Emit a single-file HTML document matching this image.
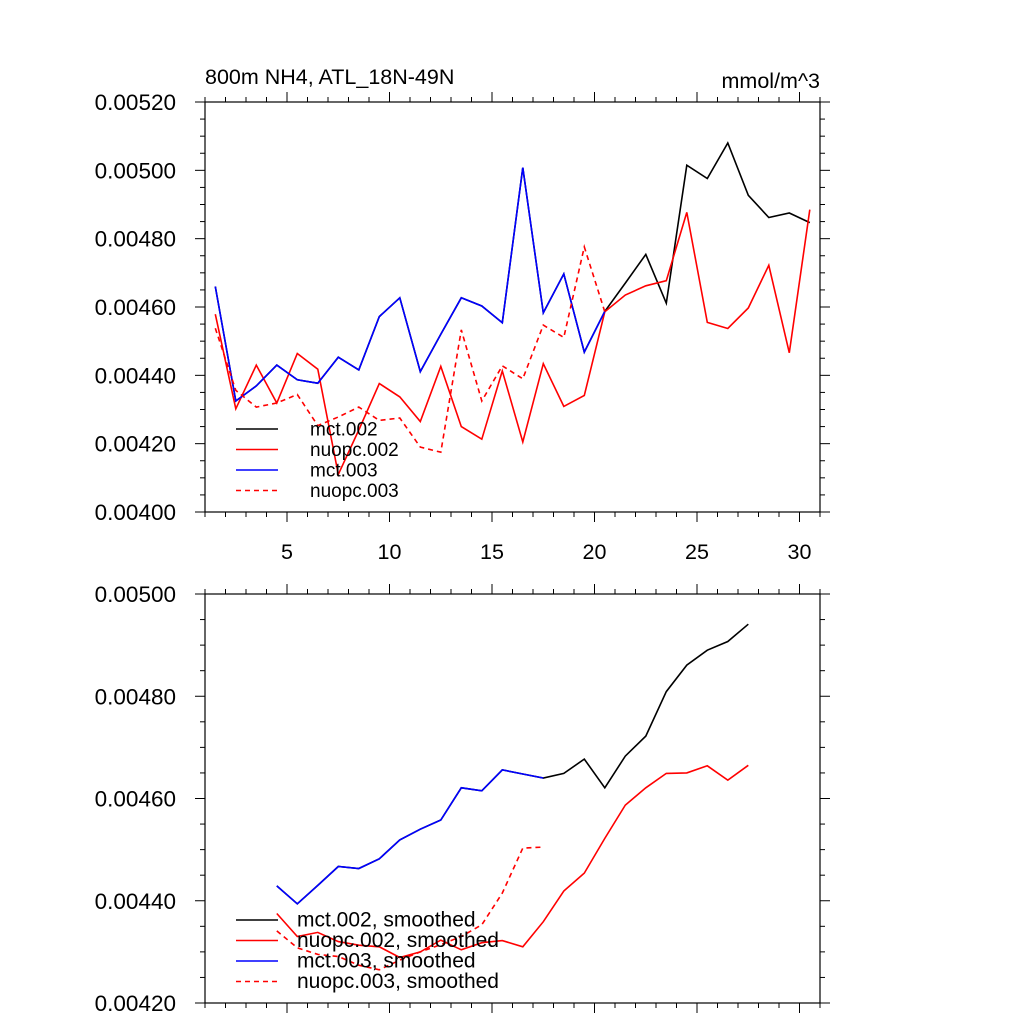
<!DOCTYPE html>
<html><head><meta charset="utf-8"><style>
body{margin:0;background:#fff;}
svg{display:block;font-family:"Liberation Sans",sans-serif;}
</style></head><body>
<svg id="c" width="1024" height="1024" viewBox="0 0 1024 1024">
<text x="205" y="84" font-size="21.5">800m NH4, ATL_18N-49N</text>
<text x="820" y="88" font-size="21.5" text-anchor="end">mmol/m^3</text>
</svg>
<script>
const xTop = [1.5,2.5,3.5,4.5,5.5,6.5,7.5,8.5,9.5,10.5,11.5,12.5,13.5,14.5,15.5,16.5,17.5,18.5,19.5,20.5,21.5,22.5,23.5,24.5,25.5,26.5,27.5,28.5,29.5,30.5];
const mct002 = [0.00466,0.004325,0.004369,0.00443,0.004387,0.004377,0.004453,0.004416,0.004572,0.004627,0.004411,0.00452,0.004627,0.004603,0.004554,0.005008,0.004583,0.004697,0.004468,0.004587,0.00467,0.004754,0.004611,0.005015,0.004976,0.00508,0.004927,0.004862,0.004875,0.004847];
const nuopc002 = [0.004579,0.004302,0.00443,0.004319,0.004464,0.004418,0.00411,0.00424,0.004376,0.004337,0.004265,0.004426,0.00425,0.004213,0.004413,0.004205,0.004434,0.004309,0.004341,0.004586,0.004635,0.004662,0.004677,0.004877,0.004555,0.004537,0.004597,0.004722,0.004466,0.004885];
const mct003 = [0.00466,0.004325,0.004369,0.00443,0.004387,0.004377,0.004453,0.004416,0.004572,0.004627,0.004411,0.00452,0.004627,0.004603,0.004554,0.005008,0.004583,0.004697,0.004468,0.004587];
const nuopc003 = [0.004538,0.004356,0.004307,0.004319,0.004344,0.004253,0.004278,0.004307,0.004268,0.004275,0.00419,0.004175,0.004533,0.004325,0.004428,0.00439,0.004547,0.004511,0.004776,0.004586];
const xSm = [4.5,5.5,6.5,7.5,8.5,9.5,10.5,11.5,12.5,13.5,14.5,15.5,16.5,17.5,18.5,19.5,20.5,21.5,22.5,23.5,24.5,25.5,26.5,27.5];
const mct002s = [0.004429,0.004394,0.00443,0.004467,0.004463,0.004482,0.004519,0.00454,0.004558,0.004621,0.004615,0.004656,0.004648,0.00464,0.004649,0.004677,0.004621,0.004683,0.004722,0.004809,0.004861,0.00489,0.004907,0.004941];
const nuopc002s = [0.004375,0.00433,0.004338,0.00432,0.004313,0.00431,0.004289,0.0043,0.004323,0.004304,0.004318,0.004322,0.00431,0.004359,0.004419,0.004454,0.004522,0.004587,0.004621,0.004649,0.00465,0.004664,0.004636,0.004665];
const mct003s = [0.004429,0.004394,0.00443,0.004467,0.004463,0.004482,0.004519,0.00454,0.004558,0.004621,0.004615,0.004656,0.004648,0.00464];
const nuopc003s = [0.004341,0.004308,0.004295,0.004291,0.004274,0.004265,0.004284,0.0043,0.004314,0.00433,0.004353,0.004415,0.004503,0.004505];
const xTickLabels = ["5","10","15","20","25","30"];
const yTopLabels = ["0.00400","0.00420","0.00440","0.00460","0.00480","0.00500","0.00520"];
const yBotLabels = ["0.00420","0.00440","0.00460","0.00480","0.00500"];

const svg = document.getElementById('c');
const NS = 'http://www.w3.org/2000/svg';
function mk(tag, attrs){const e=document.createElementNS(NS,tag);for(const k in attrs)e.setAttribute(k,attrs[k]);svg.appendChild(e);return e;}

function panel(p){
  const X = v => p.l + (v-1)/30*(p.r-p.l);
  const Y = v => p.b - (v-p.ymin)/(p.ymax-p.ymin)*(p.b-p.t);
  const box = mk('rect',{x:p.l,y:p.t,width:p.r-p.l,height:p.b-p.t,fill:'none',stroke:'#000','stroke-width':1.2});
  
  
  for(let v=1; v<=31; v++){
    const major = v%5===0; const len = major?10:5; const x=X(v);
    const t1 = mk('line',{x1:x,x2:x,y1:p.b,y2:p.b+len,stroke:'#000','stroke-width':1});
    
    
    const t2 = mk('line',{x1:x,x2:x,y1:p.t,y2:p.t-len,stroke:'#000','stroke-width':1});
    
    
  }
  if(p.xlabels){
    xTickLabels.forEach(s=>{
      const t = mk('text',{x:X(+s),y:p.b+47,'font-size':21.5,'text-anchor':'middle'});
      t.textContent=s;
      
      
    });
  }
  const minor = 0.00005;
  const n = Math.round((p.ymax-p.ymin)/minor);
  for(let i=0;i<=n;i++){
    const v=p.ymin+i*minor; const y=Y(v); const major=i%4===0; const len=major?10:5;
    const a = mk('line',{x1:p.l-len,x2:p.l,y1:y,y2:y,stroke:'#000','stroke-width':1});
    
    
    const b = mk('line',{x1:p.r,x2:p.r+len,y1:y,y2:y,stroke:'#000','stroke-width':1});
    
    
  }
  p.ylabels.forEach(s=>{
    const t = mk('text',{x:p.l-29,y:Y(+s)+8,'font-size':22.5,'text-anchor':'end'});
    t.textContent=s;
    
    
  });
  p.series.forEach(s=>{
    const pts = s.y.map((v,i)=>X(s.x[i]).toFixed(1)+','+Y(v).toFixed(1)).join(' ');
    const a={points:pts,fill:'none',stroke:s.c,'stroke-width':1.6,'stroke-linejoin':'miter'};
    if(s.dash)a['stroke-dasharray']='5,4';
    const e=mk('polyline',a);
    
    
  });
  p.legend.forEach((s,i)=>{
    const y = p.ly + i*20.5;
    const a={x1:236,x2:278,y1:y,y2:y,stroke:s.c,'stroke-width':1.6};
    if(s.dash)a['stroke-dasharray']='5,4';
    const l=mk('line',a);
    
    
    const t=mk('text',{x:p.lx,y:y+6.5,'font-size':p.lfs});
    t.textContent=s.label;
    
    
  });
}

panel({name:'top',l:205,r:820,t:102,b:512,ymin:0.004,ymax:0.0052,xlabels:true,ylabels:yTopLabels,
  series:[{x:xTop,y:mct002,c:'#000',name:'mct-002-line'},{x:xTop,y:nuopc002,c:'#f00',name:'nuopc-002-line'},
          {x:xTop,y:mct003,c:'#00f',name:'mct-003-line'},{x:xTop,y:nuopc003,c:'#f00',dash:true,name:'nuopc-003-line'}],
  ly:429,lx:310,lfs:19,
  legend:[{label:'mct.002',c:'#000'},{label:'nuopc.002',c:'#f00'},{label:'mct.003',c:'#00f'},{label:'nuopc.003',c:'#f00',dash:true}]});
panel({name:'bottom',l:205,r:820,t:594,b:1003,ymin:0.0042,ymax:0.005,xlabels:false,ylabels:yBotLabels,
  series:[{x:xSm,y:mct002s,c:'#000',name:'mct-002-smoothed-line'},{x:xSm,y:nuopc002s,c:'#f00',name:'nuopc-002-smoothed-line'},
          {x:xSm,y:mct003s,c:'#00f',name:'mct-003-smoothed-line'},{x:xSm,y:nuopc003s,c:'#f00',dash:true,name:'nuopc-003-smoothed-line'}],
  ly:920,lx:297,lfs:21,
  legend:[{label:'mct.002, smoothed',c:'#000'},{label:'nuopc.002, smoothed',c:'#f00'},{label:'mct.003, smoothed',c:'#00f'},{label:'nuopc.003, smoothed',c:'#f00',dash:true}]});
</script>
</body></html>
